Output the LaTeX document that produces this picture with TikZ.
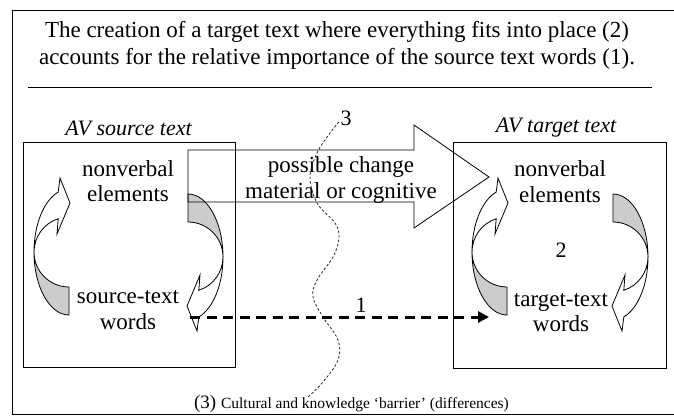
\documentclass[tikz,border=0pt]{standalone}
\usepackage{fontspec}
\setmainfont{Liberation Serif}
\usetikzlibrary{arrows.meta}

\begin{document}
\begin{tikzpicture}[
	x=1pt,y=-1pt,
	line width=0.8pt,
	>={Triangle[length=11pt,width=11pt]},
	txt/.style={font=\fontsize{23}{25.5}\selectfont,align=center,inner sep=0pt},
	heading/.style={font=\fontsize{23}{26.5}\selectfont,align=center,inner sep=0pt},
	avlabel/.style={font=\fontsize{22}{24}\selectfont\itshape,inner sep=0pt},
	num/.style={font=\fontsize{22}{24}\selectfont,inner sep=0pt},
	textbox/.style={rectangle,draw,minimum width=212pt,minimum height=225pt,inner sep=0pt},
	barrier/.style={dash pattern=on 2.5pt off 2pt,line width=0.8pt,black!85},
	link/.style={->,line width=3pt,dash pattern=on 10pt off 6.5pt},
	looparrow/.pic={
		% back side (grey)
		\filldraw[fill=gray!40] (-35,0) arc[start angle=180,end angle=90,x radius=35,y radius=63]
			-- (0,35) arc[start angle=90,end angle=180,radius=35] -- cycle;
		% front side with head
		\filldraw[fill=white] (-35,0) arc[start angle=180,end angle=252,x radius=35,y radius=63]
			-- (-9,-74) -- (1,-49) -- (-12,-18) -- (-10.8,-33.3)
			arc[start angle=252,end angle=180,radius=35] -- cycle;
	},
	]
	
	\useasboundingbox (0,0) rectangle (674,416);
	
	% Frame and heading
	\draw (674,10) -- (12,10) -- (12,414) -- (674,414);
	\node[heading] (title) at (337,45.5)
	{The creation of a target text where everything fits into place (2)\\
		accounts for the relative importance of the source text words (1).};
	\draw (28,87) -- (652,87);
	
	% Boxes
	\node[textbox] (src) at (129,254.5) {};
	\node[textbox,minimum width=213pt,minimum height=226pt] (tgt) at (559.5,255) {};
	\node[avlabel] (srclabel) at (128.5,128) {AV source text};
	\node[avlabel] (tgtlabel) at (556,128) {AV target text};
	
	% Box contents
	\node[txt] (srcnv) at (128,181) {nonverbal\\elements};
	\node[txt] (srcwords) at (128,310) {source-text\\words};
	\node[txt] (tgtnv) at (560,181.5) {nonverbal\\elements};
	\node[txt] (tgtwords) at (561,312.5) {target-text\\words};
	\node[num] (n2) at (561,250) {2};
	
	% Loop arrows
	\pic (srcloopl) at (69,252) {looparrow};
	\pic[rotate=180] (srcloopr) at (188,257) {looparrow};
	\pic (tgtloopl) at (507,252) {looparrow};
	\pic[rotate=180] (tgtloopr) at (613,257) {looparrow};
	
	% Block arrow: possible change
	\draw (188,150) -- (414,150) -- (414,125) -- (489,177) -- (414,228)
		-- (414,202) -- (188,202) -- cycle;
	\node[txt] (change) at (341,180) {possible change\\material or cognitive};
	
	% Dashed arrow 1
	\coordinate (srcend) at (190,317);
	\coordinate (tgtend) at (489,317);
	\draw[link] (srcend) -- (tgtend);
	\node[num] (n1) at (361,305) {1};
	
	% Barrier 3
	\node[num] (n3) at (346,118) {3};
	\draw[barrier] plot[smooth,tension=0.6] coordinates {(339,122) (330,133) (317,153)
		(310,177) (317,203) (335,223) (339,238) (333,257) (317,280) (313,297)
		(323,317) (338,340) (338,360) (323,382) (307,398)};
	\node[inner sep=0pt] (barriernote) at (351.5,404)
	{\fontsize{19}{20}\selectfont(3)\ \fontsize{15.5}{17}\selectfont Cultural and knowledge ‘barrier’ (differences)};
	
\end{tikzpicture}
\end{document}
